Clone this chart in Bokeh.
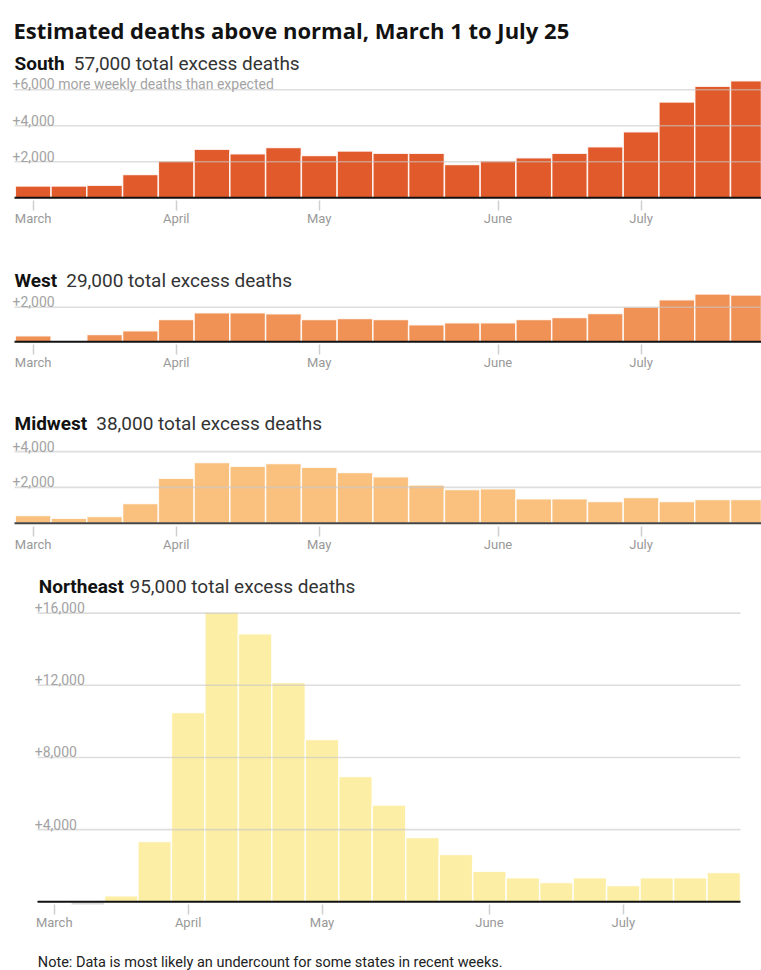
from bokeh.plotting import figure
from bokeh.models import Label, FixedTicker, Range1d
from bokeh.layouts import column
from bokeh.embed import file_html
from bokeh.resources import INLINE

# ---- data (weekly excess deaths, weeks ending Mar 7 ... Jul 25) ----
weeks = list(range(21))
month_tick_idx = [0, 4, 8, 13, 17]
month_labels = ["March", "April", "May", "June", "July"]

south = [650, 650, 700, 1300, 2050, 2700, 2450, 2800, 2350, 2600, 2480, 2480,
         1850, 2060, 2230, 2480, 2830, 3670, 5320, 6200, 6500]
west = [350, 0, 420, 640, 1290, 1680, 1680, 1620, 1290, 1350, 1290, 980,
        1100, 1100, 1290, 1400, 1640, 2010, 2430, 2760, 2700]
midwest = [430, 280, 370, 1100, 2510, 3390, 3180, 3330, 3120, 2830, 2600, 2140,
           1880, 1930, 1360, 1360, 1210, 1430, 1210, 1320, 1320]
northeast = [0, -250, 330, 3340, 10490, 16050, 14860, 12150, 8990, 6940, 5370, 3560,
             2620, 1700, 1330, 1070, 1330, 900, 1330, 1330, 1620]

regions = ["South", "West", "Midwest", "Northeast"]
totals = ["57,000 total excess deaths", "29,000 total excess deaths",
          "38,000 total excess deaths", "95,000 total excess deaths"]
south_ticks = [2000, 4000, 6000]
south_tick_labels = ["+2,000", "+4,000", "+6,000 more weekly deaths than expected"]
west_ticks = [2000]
west_tick_labels = ["+2,000"]
midwest_ticks = [2000, 4000]
midwest_tick_labels = ["+2,000", "+4,000"]
northeast_ticks = [4000, 8000, 12000, 16000]
northeast_tick_labels = ["+4,000", "+8,000", "+12,000", "+16,000"]

title_text = "Estimated deaths above normal, March 1 to July 25"
note_text = "Note: Data is most likely an undercount for some states in recent weeks."

FONT = "Roboto"
TITLE_FONT = "Open Sans"
W = 761


def base_fig(height, x_range, y_range, border_bottom):
    p = figure(width=W, height=height, output_backend="svg", toolbar_location=None,
               x_range=x_range, y_range=y_range,
               min_border_left=0, min_border_right=0, min_border_top=0,
               min_border_bottom=border_bottom)
    p.outline_line_color = None
    p.background_fill_color = "white"
    p.border_fill_color = "white"
    p.xgrid.visible = False
    p.ygrid.visible = False
    p.yaxis.visible = False
    return p


def panel(values, color, ticks, tick_labels, region, total, spec, extra=None):
    top, height = spec["top"], spec["height"]
    base, k, bw = spec["base"], spec["k"], spec["bw"]
    fb = spec["frame_bottom"]
    x0 = -0.5 - spec["bars_left"] / bw
    x1 = x0 + W / bw
    p = base_fig(height, Range1d(x0, x1),
                 Range1d((base - fb) / k, (base - top) / k),
                 int(top + height - fb))

    def xd(px):
        return x0 + px / bw

    def yd(py):
        return (base - py) / k

    cols = [color if v >= 0 else "#dcdcdc" for v in values]
    p.vbar(x=weeks, width=1, top=values, bottom=0, fill_color=cols,
           line_color="white", line_width=1.5, line_alpha=0.85)

    gx0 = xd(spec["grid_left"])
    gx1 = xd(spec["grid_right"])
    n = len(ticks)
    p.segment(x0=[gx0] * n, y0=ticks, x1=[gx1] * n, y1=ticks,
              line_color="#c8c8c8", line_alpha=0.6, line_width=1.6)
    p.segment(x0=[gx0], y0=[0], x1=[gx1], y1=[0],
              line_color=spec.get("base_color", "#111111"), line_width=2)

    for t, lab in zip(ticks, tick_labels):
        p.add_layout(Label(x=xd(spec["ylab_x"]), y=t + 5.5 / k, text=lab,
                           text_font=FONT, text_font_size="14px", text_color="#a3a3a3",
                           text_baseline="alphabetic"))

    p.add_layout(Label(x=xd(spec["head_x"]), y=yd(spec["head_base"]), text=region,
                       text_font=FONT, text_font_size="19px", text_font_style="bold",
                       text_color="#121212", text_baseline="alphabetic"))
    p.add_layout(Label(x=xd(spec["total_x"]), y=yd(spec["head_base"]), text=total,
                       text_font=FONT, text_font_size="19px",
                       text_color="#333333", text_baseline="alphabetic"))
    if extra:
        for (px, py, txt, font, size, style, col) in extra:
            p.add_layout(Label(x=xd(px), y=yd(py), text=txt, text_font=font,
                               text_font_size=size, text_font_style=style,
                               text_color=col, text_baseline="alphabetic"))

    ax = p.xaxis[0]
    ax.ticker = FixedTicker(ticks=month_tick_idx)
    ax.major_label_overrides = {i: m for i, m in zip(month_tick_idx, month_labels)}
    ax.axis_line_color = None
    ax.major_tick_in = 0
    ax.major_tick_out = 10
    ax.major_tick_line_color = "#cfcfcf"
    ax.major_tick_line_width = 1.5
    ax.minor_tick_line_color = None
    ax.major_label_standoff = 0
    ax.major_label_text_font = FONT
    ax.major_label_text_font_size = "13px"
    ax.major_label_text_color = "#999999"
    return p


south_spec = dict(top=0, height=240, base=197.3, frame_bottom=200, k=0.018,
                  bars_left=14.8, bw=35.76, grid_left=14, grid_right=761,
                  ylab_x=12, head_x=14, total_x=73.3, head_base=63.3)
west_spec = dict(top=240, height=145, base=341.3, frame_bottom=344, k=0.0173,
                 bars_left=14.8, bw=35.76, grid_left=14, grid_right=761,
                 ylab_x=12, head_x=14, total_x=65.7, head_base=280)
midwest_spec = dict(top=385, height=175, base=522.7, frame_bottom=526, k=0.0179,
                    bars_left=14.8, bw=35.76, grid_left=14, grid_right=761,
                    ylab_x=12, head_x=14, total_x=95.7, head_base=423.3,
                    base_color="#444444")
ne_spec = dict(top=560, height=375, base=901.3, frame_bottom=904, k=0.01804,
               bars_left=37, bw=703 / 21, grid_left=37, grid_right=740,
               ylab_x=34.3, head_x=38.3, total_x=129, head_base=586)

p1 = panel(south, "#e05a2b", south_ticks, south_tick_labels, regions[0], totals[0], south_spec,
           extra=[(13, 29.3, title_text, TITLE_FONT, "22px", "bold", "#121212")])
p2 = panel(west, "#f09156", west_ticks, west_tick_labels, regions[1], totals[1], west_spec)
p3 = panel(midwest, "#f9c07e", midwest_ticks, midwest_tick_labels, regions[2], totals[2], midwest_spec)
p4 = panel(northeast, "#fdeea6", northeast_ticks, northeast_tick_labels, regions[3], totals[3], ne_spec)

# note strip (pixel-based coordinates for the text only)
p5 = base_fig(35, Range1d(0, W), Range1d(0, 35), 0)
p5.xaxis.visible = False
p5.add_layout(Label(x=37.3, y=8, text=note_text, text_font=FONT, text_font_size="14.5px",
                    text_color="#222222", text_baseline="alphabetic"))

layout = column(p1, p2, p3, p4, p5, spacing=0)
open("out.html", "w").write(file_html(layout, INLINE))
